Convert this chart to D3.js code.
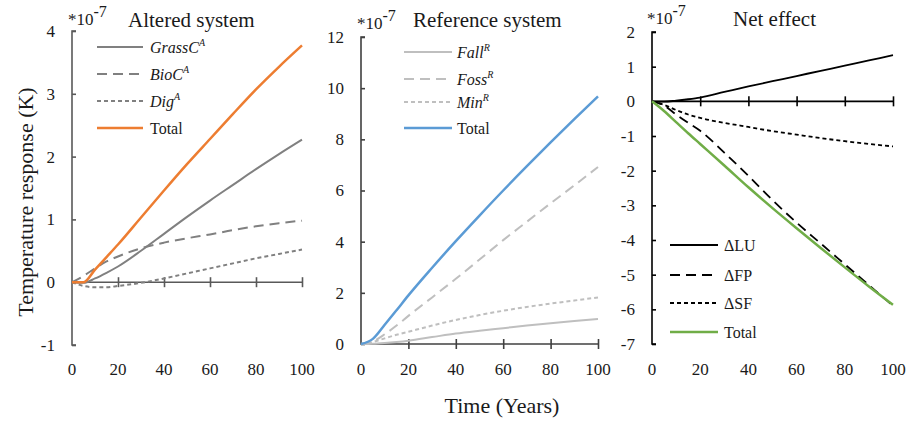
<!DOCTYPE html>
<html lang="en">
<head>
    <title>Temperature response</title>
    <script src="https://d3js.org/d3.v7.min.js"></script>
    <style>
        body { margin: 0; background: #fff; }
        svg text { font-family: "Liberation Serif", "Times New Roman", serif; fill: #1a1a1a; }
    </style>
</head>
<body>
    <div id="chart"></div>

    <script>
        // time axis (years)
        var years = [0, 5, 10, 15, 20, 30, 40, 50, 60, 70, 80, 90, 100];
        var xTicks = [0, 20, 40, 60, 80, 100];

        // altered system (*10^-7 K)
        var grassA = [0, -0.01, 0.06, 0.15, 0.25, 0.5, 0.77, 1.04, 1.3, 1.55, 1.8, 2.04, 2.27];
        var bioA   = [0, 0.1, 0.22, 0.33, 0.41, 0.54, 0.63, 0.7, 0.76, 0.83, 0.89, 0.94, 0.98];
        var digA   = [0, -0.06, -0.08, -0.08, -0.06, -0.01, 0.06, 0.14, 0.22, 0.3, 0.38, 0.45, 0.52];
        var totalA = [0, 0.0, 0.2, 0.4, 0.6, 1.03, 1.46, 1.88, 2.28, 2.68, 3.07, 3.43, 3.77];

        // reference system
        var fallR  = [0, 0.01, 0.04, 0.08, 0.13, 0.27, 0.41, 0.52, 0.62, 0.72, 0.81, 0.9, 0.98];
        var fossR  = [0, 0.1, 0.38, 0.72, 1.1, 1.82, 2.55, 3.3, 4.06, 4.78, 5.5, 6.2, 6.92];
        var minR   = [0, 0.08, 0.22, 0.36, 0.48, 0.72, 0.94, 1.13, 1.3, 1.45, 1.58, 1.7, 1.82];
        var totalR = [0, 0.2, 0.75, 1.32, 1.9, 2.98, 4.02, 5.02, 6.0, 6.95, 7.88, 8.79, 9.68];

        // net effect
        var dLU    = [0, -0.01, 0.02, 0.06, 0.11, 0.27, 0.43, 0.58, 0.73, 0.88, 1.03, 1.18, 1.33];
        var dFP    = [0, -0.12, -0.38, -0.62, -0.85, -1.48, -2.15, -2.85, -3.5, -4.1, -4.7, -5.3, -5.9];
        var dSF    = [0, -0.1, -0.25, -0.38, -0.48, -0.62, -0.74, -0.86, -0.96, -1.06, -1.15, -1.23, -1.3];
        var totalN = [0, -0.28, -0.6, -0.92, -1.23, -1.85, -2.48, -3.08, -3.66, -4.23, -4.79, -5.34, -5.87];

        var yTicks1 = [-1, 0, 1, 2, 3, 4];
        var yTicks2 = [0, 2, 4, 6, 8, 10, 12];
        var yTicks3 = [-7, -6, -5, -4, -3, -2, -1, 0, 1, 2];

        var width = 913, height = 421;
        var longDash = "10,6", shortDash = "4,3";

        var panels = [
            {
                title: "Altered system", titleX: 128, titleY: 27,
                expX: 68, expY: 25,
                x0: 72, x1: 302, y0: 345, y1: 31, domain: [-1, 4], ticks: yTicks1,
                axisColor: "#595959",
                legend: { x0: 97, x1: 143, tx: 150, ys: [47, 74, 101, 128] },
                series: [
                    { name: "GrassC", sup: "A", values: grassA, color: "#808080", dash: null, width: 2 },
                    { name: "BioC", sup: "A", values: bioA, color: "#808080", dash: longDash, width: 2 },
                    { name: "Dig", sup: "A", values: digA, color: "#808080", dash: shortDash, width: 2 },
                    { name: "Total", values: totalA, color: "#ED7D31", dash: null, width: 2.5 }
                ]
            },
            {
                title: "Reference system", titleX: 413, titleY: 27,
                expX: 357, expY: 29,
                x0: 361, x1: 598, y0: 344, y1: 37, domain: [0, 12], ticks: yTicks2,
                axisColor: "#404040",
                legend: { x0: 404, x1: 452, tx: 457, ys: [52, 79, 102, 128] },
                series: [
                    { name: "Fall", sup: "R", values: fallR, color: "#BFBFBF", dash: null, width: 2 },
                    { name: "Foss", sup: "R", values: fossR, color: "#BFBFBF", dash: longDash, width: 2 },
                    { name: "Min", sup: "R", values: minR, color: "#BFBFBF", dash: shortDash, width: 2 },
                    { name: "Total", values: totalR, color: "#5B9BD5", dash: null, width: 2.5 }
                ]
            },
            {
                title: "Net effect", titleX: 733, titleY: 26,
                expX: 647, expY: 24,
                x0: 652, x1: 893, y0: 344, y1: 32, domain: [-7, 2], ticks: yTicks3,
                axisColor: "#000",
                legend: { x0: 670, x1: 718, tx: 724, ys: [245, 275, 303, 332] },
                series: [
                    { name: "\u0394LU", values: dLU, color: "#000", dash: null, width: 1.8 },
                    { name: "\u0394FP", values: dFP, color: "#000", dash: longDash, width: 1.8 },
                    { name: "\u0394SF", values: dSF, color: "#000", dash: shortDash, width: 1.8 },
                    { name: "Total", values: totalN, color: "#70AD47", dash: null, width: 2.5 }
                ]
            }
        ];

        var svg = d3.select("#chart").append("svg")
            .attr("width", width)
            .attr("height", height);

        panels.forEach(function (p) {
            var xscale = d3.scaleLinear().domain([0, 100]).range([p.x0, p.x1]);
            var yscale = d3.scaleLinear().domain(p.domain).range([p.y0, p.y1]);
            var g = svg.append("g");

            // y axis, ticks pointing inwards
            var yaxis = d3.axisRight(yscale).tickValues(p.ticks).tickSize(4).tickFormat("");
            var ya = g.append("g")
                .attr("transform", "translate(" + p.x0 + ",0)")
                .call(yaxis);
            ya.select(".domain").attr("stroke", p.axisColor).attr("stroke-width", 1.6)
                .attr("d", "M4," + p.y1 + "H0V" + p.y0 + "H4");
            ya.selectAll(".tick line").attr("stroke", p.axisColor).attr("stroke-width", 1.6);

            g.selectAll(".ylab")
                .data(p.ticks)
                .enter()
                .append("text")
                .attr("x", p.x0 - 17)
                .attr("y", function (d) { return yscale(d); })
                .attr("dy", "0.35em")
                .attr("text-anchor", "end")
                .style("font-size", "17px")
                .text(function (d) { return d; });

            // x axis line at zero, crossing ticks
            var xaxis = d3.axisBottom(xscale).tickValues(xTicks).tickSize(5).tickFormat("");
            var xa = g.append("g")
                .attr("transform", "translate(0," + yscale(0) + ")")
                .call(xaxis);
            xa.select(".domain").attr("stroke", p.axisColor).attr("stroke-width", 1.6)
                .attr("d", "M" + p.x0 + ",0H" + p.x1);
            xa.selectAll(".tick line").attr("stroke", p.axisColor).attr("stroke-width", 1.6)
                .attr("y1", -5).attr("y2", 5);
            xa.selectAll(".tick").filter(function (d) { return d === 0; }).remove();

            g.selectAll(".xlab")
                .data(xTicks)
                .enter()
                .append("text")
                .attr("x", function (d) { return xscale(d); })
                .attr("y", 375)
                .attr("text-anchor", "middle")
                .style("font-size", "17px")
                .text(function (d) { return d; });

            // title and exponent
            g.append("text")
                .attr("x", p.titleX)
                .attr("y", p.titleY)
                .style("font-size", "21px")
                .text(p.title);
            var e = g.append("text")
                .attr("x", p.expX)
                .attr("y", p.expY)
                .style("font-size", "17px");
            e.append("tspan").text("*10");
            e.append("tspan").attr("dy", -8).style("font-size", "16px").text("-7");

            // series lines
            var line = d3.line()
                .x(function (d, i) { return xscale(years[i]); })
                .y(function (d) { return yscale(d); })
                .curve(d3.curveMonotoneX);

            p.series.forEach(function (s) {
                g.append("path")
                    .attr("d", line(s.values))
                    .attr("fill", "none")
                    .attr("stroke", s.color)
                    .attr("stroke-width", s.width)
                    .attr("stroke-dasharray", s.dash);
            });

            // legend
            p.series.forEach(function (s, i) {
                var ly = p.legend.ys[i];
                g.append("line")
                    .attr("x1", p.legend.x0).attr("x2", p.legend.x1)
                    .attr("y1", ly).attr("y2", ly)
                    .attr("stroke", s.color)
                    .attr("stroke-width", s.width)
                    .attr("stroke-dasharray", s.dash);
                var t = g.append("text")
                    .attr("x", p.legend.tx)
                    .attr("y", ly)
                    .attr("dy", "0.35em")
                    .style("font-size", "16px");
                if (s.sup) {
                    t.append("tspan").style("font-style", "italic").text(s.name);
                    t.append("tspan").attr("dy", -7).style("font-style", "italic")
                        .style("font-size", "10px").text(s.sup);
                } else {
                    t.text(s.name);
                }
            });
        });

        // shared axis titles
        svg.append("text")
            .attr("transform", "translate(25,202) rotate(-90)")
            .attr("text-anchor", "middle")
            .attr("dy", "0.35em")
            .style("font-size", "22px")
            .text("Temperature response (K)");

        svg.append("text")
            .attr("x", 502)
            .attr("y", 413)
            .attr("text-anchor", "middle")
            .style("font-size", "22px")
            .text("Time (Years)");
    </script>
</body>
</html>
